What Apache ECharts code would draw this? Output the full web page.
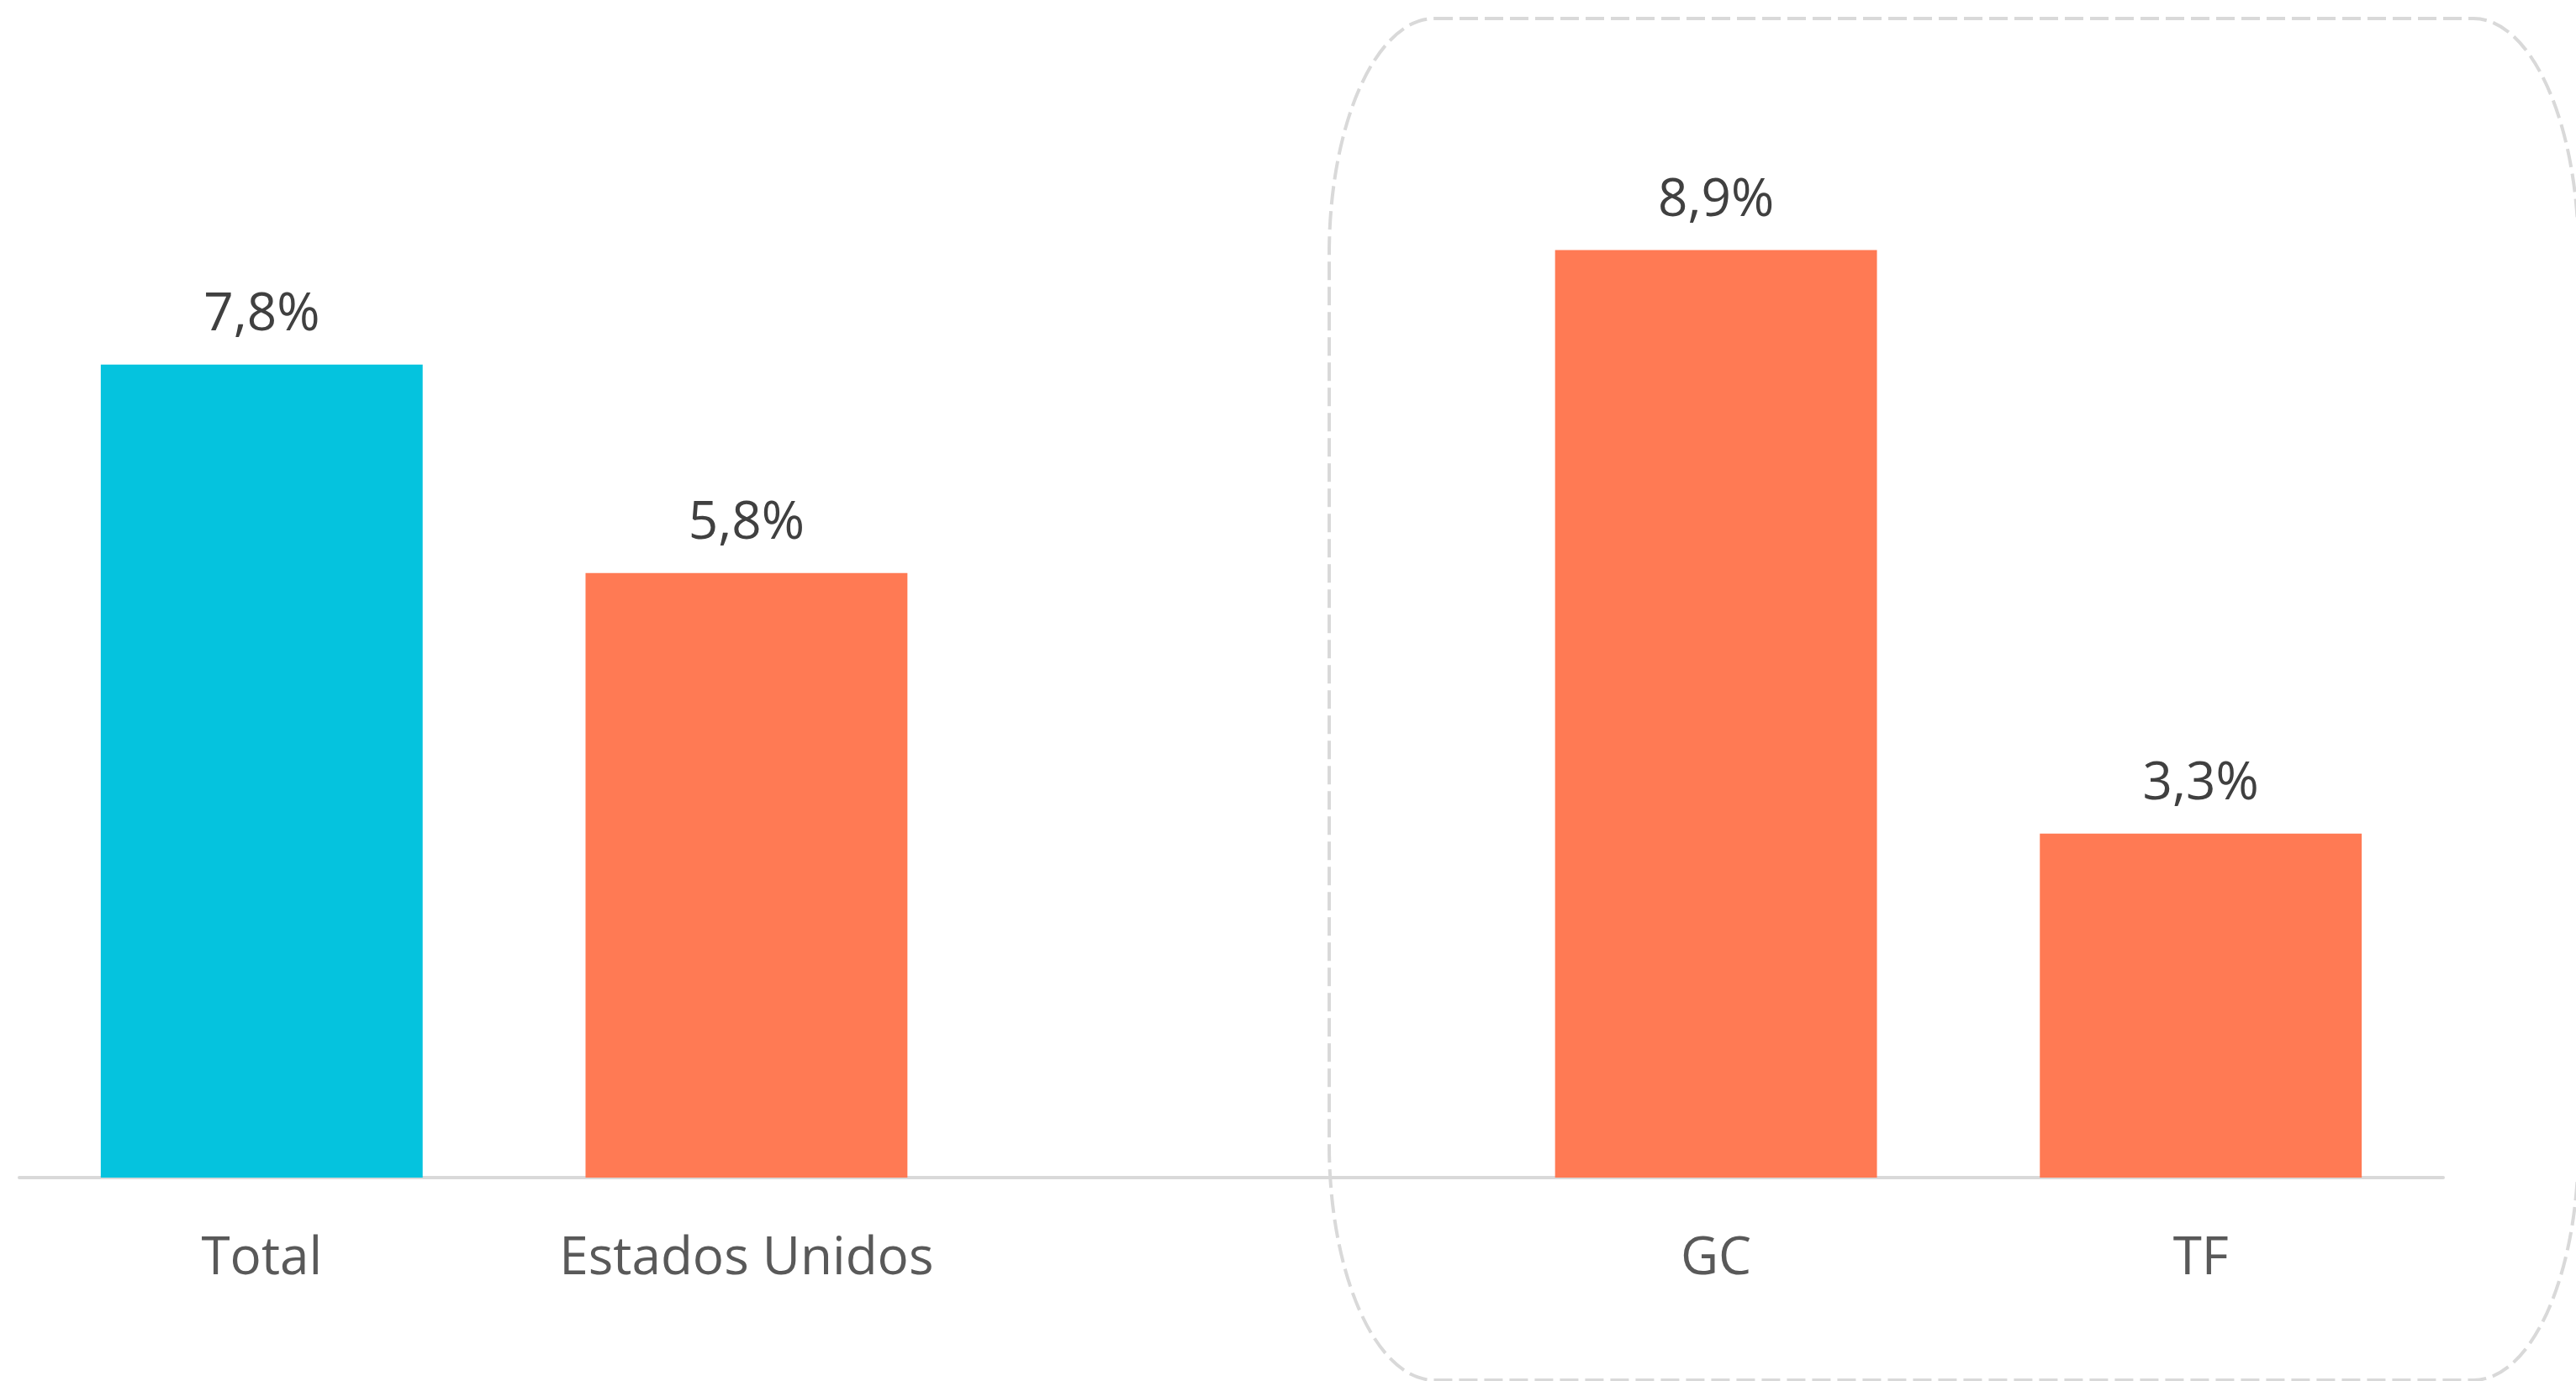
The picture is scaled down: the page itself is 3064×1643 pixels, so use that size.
<!DOCTYPE html>
<html>
<head>
<meta charset="utf-8">
<title>Chart</title>
<script src="https://cdn.jsdelivr.net/npm/echarts@6/dist/echarts.min.js"></script>
<style>
  html, body { margin: 0; padding: 0; background: #ffffff; }
  #chart { width: 3064px; height: 1643px; }
</style>
</head>
<body>
<div id="chart"></div>
<script>
// categorías (la tercera queda vacía para separar el grupo GC / TF)
const categories = ['Total', 'Estados Unidos', '', 'GC', 'TF']
const values = [7.8, 5.8, null, 8.9, 3.3]

const chart = echarts.init(document.getElementById('chart'))

const fmt = (v) => v.toFixed(1).replace('.', ',') + '%'

// recuadro discontinuo alrededor de GC y TF (esquinas elípticas)
const boxPath =
  'M 1706 22 L 2942 22 A 125 280 0 0 1 3067 302 L 3067 1362 A 125 280 0 0 1 2942 1642 ' +
  'L 1706 1642 A 125 280 0 0 1 1581 1362 L 1581 302 A 125 280 0 0 1 1706 22 Z'

const option = {
  animation: false,
  backgroundColor: '#ffffff',
  grid: { left: 23, right: 158, top: 161, bottom: 242 },
  xAxis: {
    type: 'category',
    data: categories,
    axisLine: { lineStyle: { color: '#d9d9d9', width: 4 } },
    axisTick: { show: false },
    axisLabel: {
      interval: 0,
      hideOverlap: false,
      margin: 66,
      fontSize: 62,
      color: '#595959',
      fontFamily: 'Open Sans',
    },
  },
  yAxis: {
    type: 'value',
    min: 0,
    max: 10,
    show: false,
    splitLine: { show: false },
  },
  series: [
    {
      type: 'bar',
      data: values,
      barCategoryGap: '33.6%',
      itemStyle: {
        // Total en cian, el resto en naranja
        color: (p) => (p.dataIndex === 0 ? '#05c3de' : '#ff7a54'),
      },
      label: {
        show: true,
        position: 'top',
        distance: 27,
        fontSize: 62,
        color: '#404040',
        fontFamily: 'Open Sans',
        formatter: (p) => fmt(p.value),
      },
    },
    {
      type: 'custom',
      coordinateSystem: 'none',
      silent: true,
      data: [0],
      renderItem: () => ({
        type: 'path',
        shape: { pathData: boxPath },
        style: {
          fill: null,
          stroke: '#d9d9d9',
          lineWidth: 4,
          lineDash: [22, 8],
        },
      }),
    },
  ],
}

chart.setOption(option)
</script>
</body>
</html>
